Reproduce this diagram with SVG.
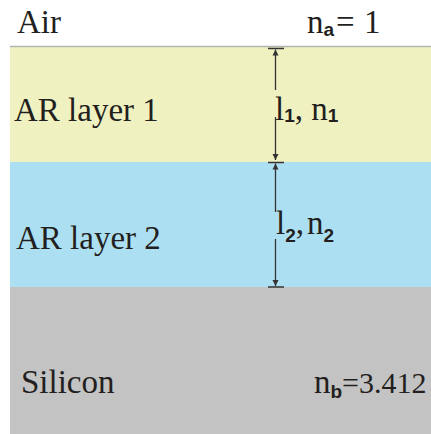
<svg xmlns="http://www.w3.org/2000/svg" width="431" height="434" viewBox="0 0 431 434">
<defs>
<style>
.t{font-family:'Liberation Serif','DejaVu Serif','Times New Roman',serif;font-size:33px;fill:#231f20}
.s{font-family:'Liberation Sans','DejaVu Sans',Arial,sans-serif;font-size:19px;font-weight:bold;fill:#231f20}
.dim{stroke:#333;stroke-width:1.3;fill:none}
.bar{stroke:#333;stroke-width:1.5}
</style>
<marker id="ah" viewBox="0 0 10 10" refX="10" refY="5" markerWidth="6" markerHeight="7" orient="auto" markerUnits="userSpaceOnUse">
<path d="M0,0 L10,5 L0,10 z" fill="#333"/>
</marker>
</defs>
<rect width="431" height="434" fill="#fff"/>
<g id="air">
<text class="t" font-family="Liberation Serif, serif" x="17" y="33">Air</text>
<text class="t" font-family="Liberation Serif, serif" x="307" y="33">n<tspan class="s" dy="3">a</tspan></text>
<text class="t" font-family="Liberation Serif, serif" x="336" y="33">=</text>
<text class="t" font-family="Liberation Serif, serif" x="364" y="33">1</text>
</g>
<g id="layer1">
<rect x="10" y="47" width="421" height="115" fill="#eff1c0"/>
<line x1="10" y1="46.5" x2="431" y2="46.5" stroke="#b4b4b4" stroke-width="1.5"/>
<text class="t" font-family="Liberation Serif, serif" x="14" y="121">AR layer 1</text>
<text class="t" font-family="Liberation Serif, serif" x="275" y="120">l<tspan class="s" dy="2">1</tspan><tspan dy="-2">, n</tspan><tspan class="s" dy="2">1</tspan></text>
</g>
<g id="layer2">
<rect x="10" y="162" width="421" height="125" fill="#addff2"/>
<text class="t" font-family="Liberation Serif, serif" x="16" y="249">AR layer 2</text>
<text class="t" font-family="Liberation Serif, serif" x="276" y="234">l<tspan class="s" dy="8">2</tspan><tspan dy="-8">,</tspan><tspan dx="3">n</tspan><tspan class="s" dy="8">2</tspan></text>
</g>
<g id="silicon">
<rect x="10" y="287" width="421" height="147" fill="#c3c3c3"/>
<text class="t" font-family="Liberation Serif, serif" x="21" y="393">Silicon</text>
<text class="t" font-family="Liberation Serif, serif" x="314" y="393">n<tspan class="s" dy="5">b</tspan></text>
<text class="t" font-family="Liberation Serif, serif" font-size="30" style="font-size:30px" x="342" y="393">=3.412</text>
</g>
<g id="connectors">
<line class="bar" x1="268" y1="48.5" x2="284" y2="48.5"/>
<line class="dim" x1="275.5" y1="90" x2="275.5" y2="49.5" marker-end="url(#ah)"/>
<line class="dim" x1="275.5" y1="117" x2="275.5" y2="160" marker-end="url(#ah)"/>
<line class="bar" x1="268" y1="162.5" x2="284" y2="162.5"/>
<line class="dim" x1="275.5" y1="212" x2="275.5" y2="163.5" marker-end="url(#ah)"/>
<line class="dim" x1="275.5" y1="239" x2="275.5" y2="286" marker-end="url(#ah)"/>
<line class="bar" x1="268" y1="287" x2="284" y2="287"/>
</g>
</svg>
